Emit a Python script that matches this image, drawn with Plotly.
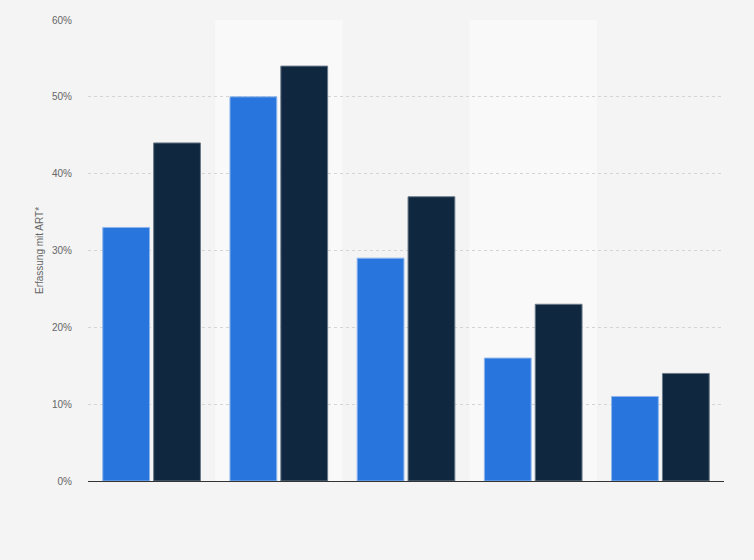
import plotly.graph_objects as go

categories = ["Gruppe 1", "Gruppe 2", "Gruppe 3", "Gruppe 4", "Gruppe 5"]
series_a_name = "Serie A"
series_a = [33, 50, 29, 16, 11]
series_b_name = "Serie B"
series_b = [44, 54, 37, 23, 14]
y_ticks = [0, 10, 20, 30, 40, 50, 60]
y_tick_labels = ["0%", "10%", "20%", "30%", "40%", "50%", "60%"]
y_title = "Erfassung mit ART*"

fig = go.Figure()
fig.add_trace(go.Bar(x=categories, y=series_a, name=series_a_name,
                     marker=dict(color="#2876dd", line=dict(color="#8fb6ec", width=1))))
fig.add_trace(go.Bar(x=categories, y=series_b, name=series_b_name,
                     marker=dict(color="#0f2840", line=dict(color="#6b7a88", width=1))))

shapes = []
for i in range(len(categories)):
    if i % 2 == 1:
        shapes.append(dict(type="rect", xref="x", yref="paper", x0=i - 0.5, x1=i + 0.5,
                           y0=0, y1=1, fillcolor="#f9f9f9", line=dict(width=0), layer="below"))

fig.update_layout(
    width=754, height=560,
    paper_bgcolor="#f4f4f4", plot_bgcolor="#f4f4f4",
    margin=dict(l=88, r=30, t=20, b=79),
    barmode="group", bargap=0.2, bargroupgap=0.08,
    showlegend=False,
    shapes=shapes,
    font=dict(family="Arial, Liberation Sans, sans-serif", size=10, color="#666"),
)
fig.update_xaxes(showticklabels=False, showgrid=False, showline=True, linecolor="#333",
                 linewidth=1, ticks="", range=[-0.5, len(categories) - 0.5])
fig.update_yaxes(range=[0, 60], tickvals=y_ticks, ticktext=y_tick_labels,
                 showgrid=True, gridcolor="#d4d4d4", griddash="dot", gridwidth=1,
                 zeroline=False, ticks="", ticklabelstandoff=15,
                 title=dict(text=y_title, font=dict(size=10, color="#666"), standoff=6))

fig.write_html("out.html", config={"displayModeBar": False},
               post_script="document.body.style.margin='0';document.body.style.background='#f4f4f4';")
